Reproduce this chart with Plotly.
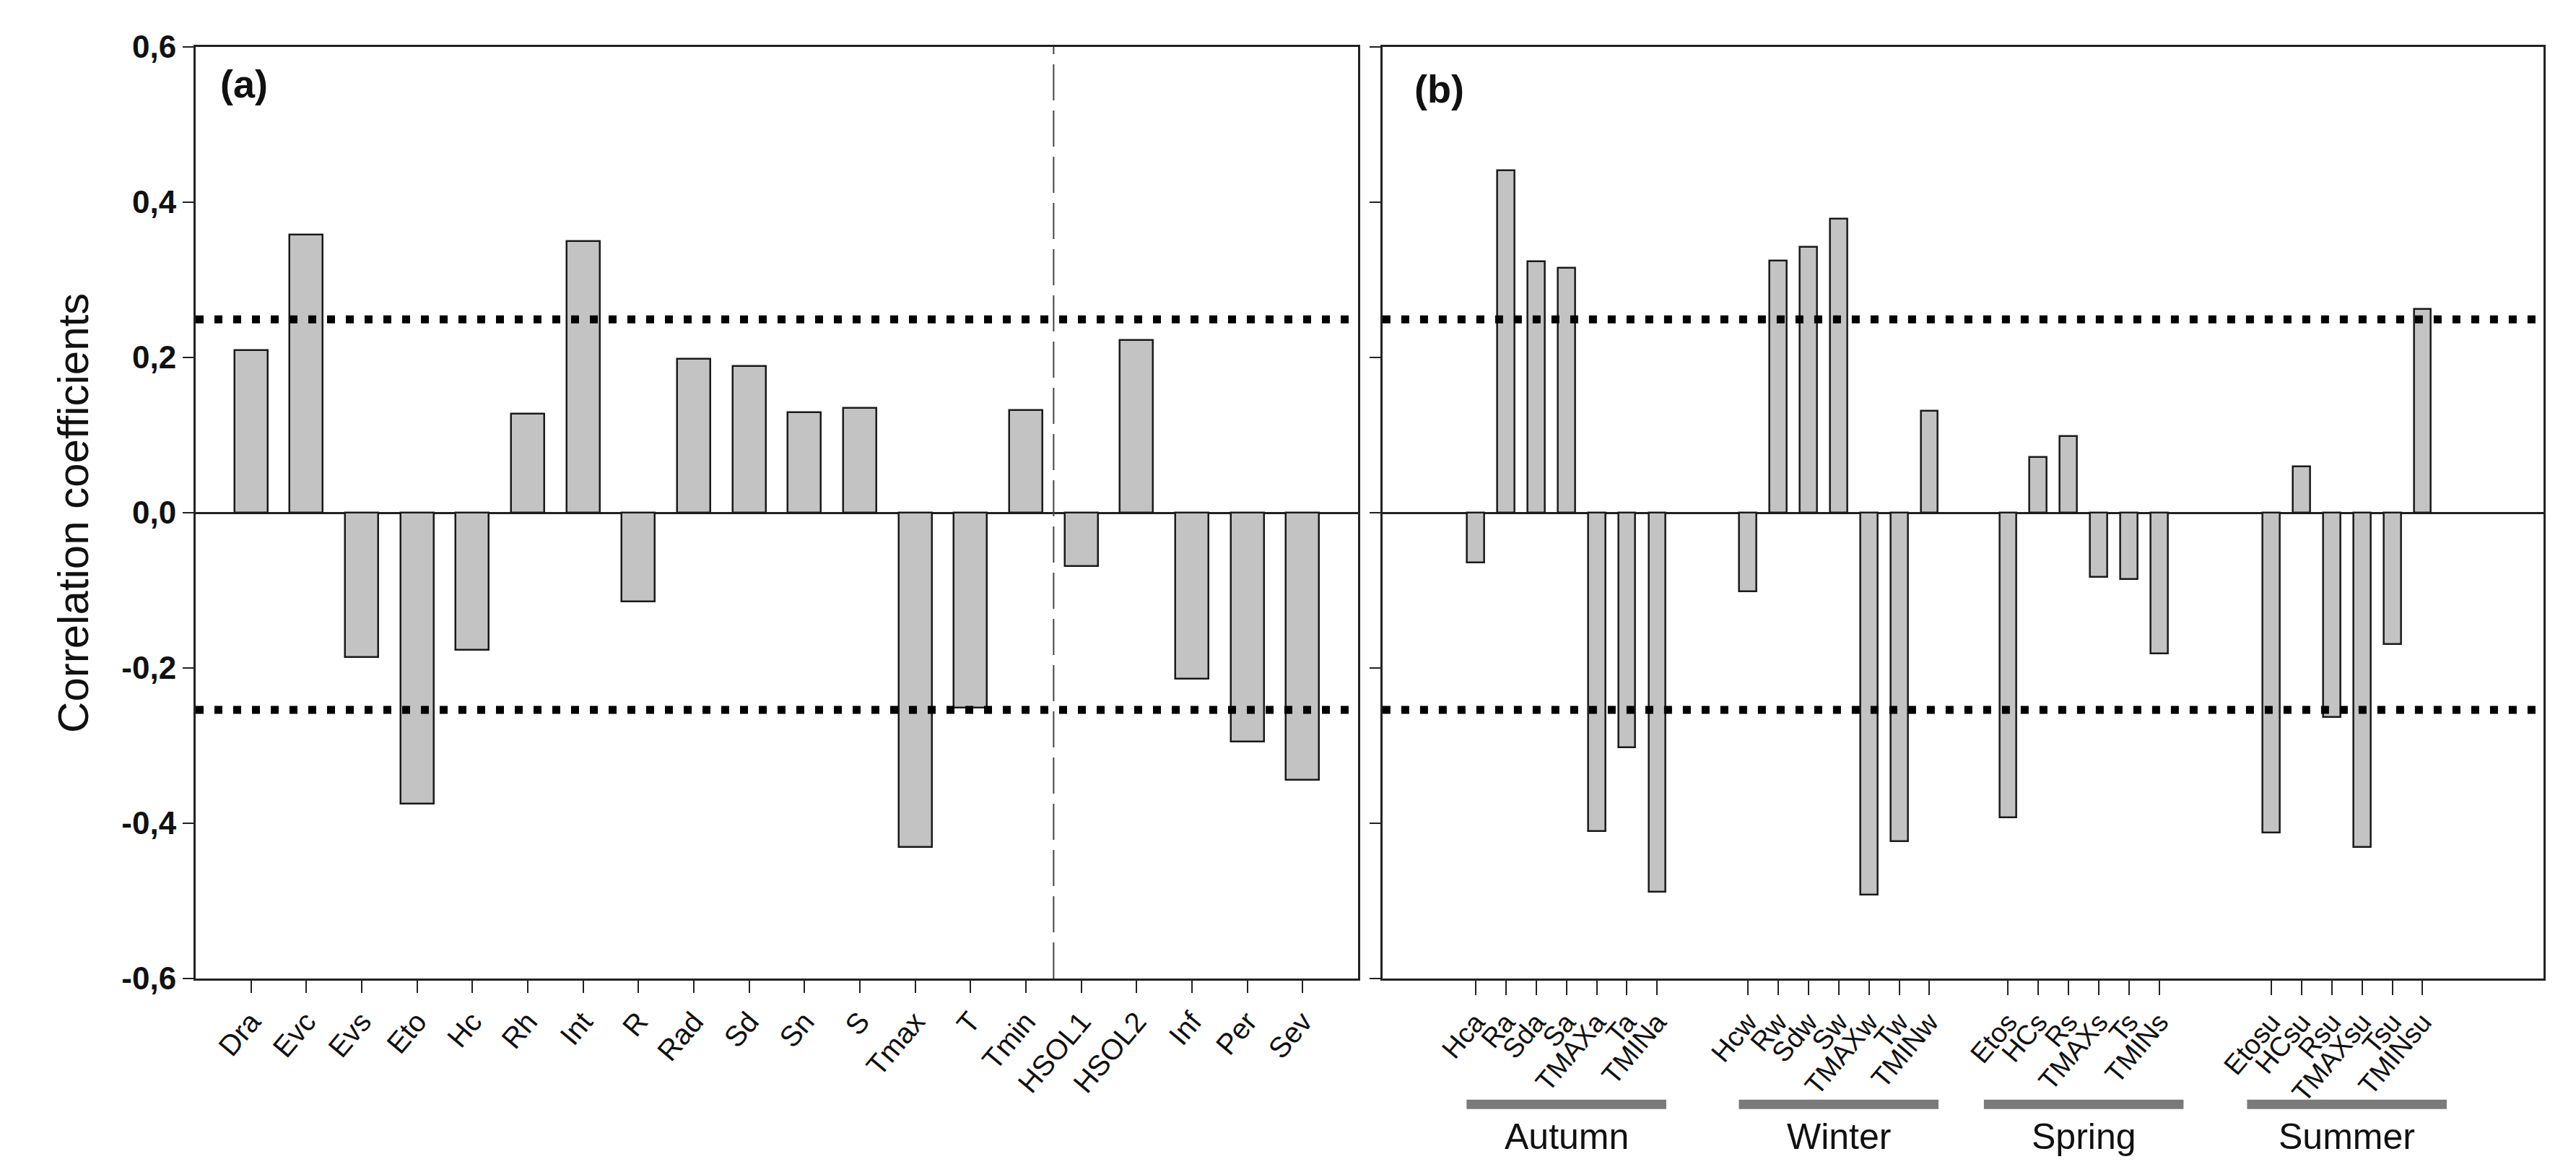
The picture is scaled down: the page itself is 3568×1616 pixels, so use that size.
import plotly.graph_objects as go

# ---------------- data ----------------
cats_a = ["Dra", "Evc", "Evs", "Eto", "Hc", "Rh", "Int", "R", "Rad", "Sd", "Sn", "S",
          "Tmax", "T", "Tmin", "HSOL1", "HSOL2", "Inf", "Per", "Sev"]
vals_a = [0.209, 0.358, -0.186, -0.375, -0.177, 0.127, 0.350, -0.114, 0.198, 0.189,
          0.129, 0.135, -0.431, -0.251, 0.132, -0.069, 0.222, -0.214, -0.295, -0.344]

seasons = ["Autumn", "Winter", "Spring", "Summer"]
autumn_labels = ["Hca", "Ra", "Sda", "Sa", "TMAXa", "Ta", "TMINa"]
autumn_vals = [-0.064, 0.441, 0.324, 0.315, -0.410, -0.302, -0.488]
winter_labels = ["Hcw", "Rw", "Sdw", "Sw", "TMAXw", "Tw", "TMINw"]
winter_vals = [-0.101, 0.325, 0.342, 0.379, -0.492, -0.423, 0.131]
spring_labels = ["Etos", "HCs", "Rs", "TMAXs", "Ts", "TMINs"]
spring_vals = [-0.393, 0.072, 0.099, -0.083, -0.086, -0.181]
summer_labels = ["Etosu", "HCsu", "Rsu", "TMAXsu", "Tsu", "TMINsu"]
summer_vals = [-0.412, 0.060, -0.263, -0.431, -0.169, 0.262]

threshold_upper = 0.249
threshold_lower = -0.254

y_ticks = [-0.6, -0.4, -0.2, 0.0, 0.2, 0.4, 0.6]
y_ticktext = ["-0,6", "-0,4", "-0,2", "0,0", "0,2", "0,4", "0,6"]

# ---------------- layout helpers ----------------
group_labels = [autumn_labels, winter_labels, spring_labels, summer_labels]
group_vals = [autumn_vals, winter_vals, spring_vals, summer_vals]
group_start = [0, 9, 17.6, 26.3]   # slot where each season group begins

pos_b, lab_b, val_b, centers = [], [], [], []
for start, labs, vals in zip(group_start, group_labels, group_vals):
    p = [start + i for i in range(len(labs))]
    pos_b += p
    lab_b += labs
    val_b += vals
    centers.append((p[0] + p[-1]) / 2)

FONT = "Arial, Liberation Sans, sans-serif"
BAR_FILL = "#c3c3c3"
EDGE = "#1a1a1a"

fig = go.Figure()
fig.add_trace(go.Bar(x=cats_a, y=vals_a, width=0.6, xaxis="x", yaxis="y",
                     marker=dict(color=BAR_FILL, line=dict(color=EDGE, width=2.5)),
                     showlegend=False))
fig.add_trace(go.Bar(x=pos_b, y=val_b, width=0.57, xaxis="x2", yaxis="y2",
                     marker=dict(color=BAR_FILL, line=dict(color=EDGE, width=2.5)),
                     showlegend=False))

axis_common = dict(showline=True, linecolor="#222", linewidth=3, mirror=True,
                   showgrid=False, ticks="outside", tickcolor="#222", tickwidth=2)

fig.update_layout(
    width=3568, height=1616,
    margin=dict(l=263, r=53, t=57, b=269),
    paper_bgcolor="white", plot_bgcolor="white",
    font=dict(family=FONT, color="#111"),
    bargap=0,
    xaxis=dict(domain=[0, 0.4951], range=[-1, 20], type="category",
               ticklen=17, tickangle=-50, tickfont=dict(size=40, family=FONT),
               zeroline=False, **axis_common),
    xaxis2=dict(domain=[0.5055, 1], range=[-3.08, 35.3], anchor="y2",
                tickvals=pos_b, ticktext=lab_b, ticklen=20, tickangle=-50,
                tickfont=dict(size=38, family=FONT), zeroline=False, **axis_common),
    yaxis=dict(range=[-0.6, 0.6], tickvals=y_ticks, ticktext=y_ticktext, ticklen=15,
               tickfont=dict(size=44, family=FONT, weight="bold"),
               zeroline=True, zerolinecolor="#222", zerolinewidth=2.5, **axis_common),
    yaxis2=dict(range=[-0.6, 0.6], tickvals=y_ticks, showticklabels=False, ticklen=15,
                anchor="x2", zeroline=True, zerolinecolor="#222", zerolinewidth=2.5,
                **axis_common),
)

# threshold dotted lines
for xd, yr in (("x domain", "y"), ("x2 domain", "y2")):
    for thr in (threshold_upper, threshold_lower):
        fig.add_shape(type="line", xref=xd, yref=yr, x0=0, x1=1, y0=thr, y1=thr,
                      line=dict(color="black", width=11, dash="11px,15px"), layer="above")

# dashed separator in panel (a)
fig.add_shape(type="line", xref="x", yref="y domain", x0=14.5, x1=14.5, y0=0, y1=1,
              line=dict(color="#444", width=2, dash="50px,14px"), layer="above")

# season bars and labels
for c, name in zip(centers, seasons):
    fig.add_shape(type="line", xref="x2", yref="paper", x0=c - 3.3, x1=c + 3.3,
                  y0=-0.135, y1=-0.135, line=dict(color="#7a7a7a", width=13))
    fig.add_annotation(xref="x2", yref="paper", x=c, y=-0.17, text=name,
                       showarrow=False, font=dict(size=50, family=FONT, color="#111"),
                       xanchor="center", yanchor="middle")

# panel labels
fig.add_annotation(xref="x domain", yref="y domain", x=0.02, y=0.985, text="<b>(a)</b>",
                   showarrow=False, xanchor="left", yanchor="top",
                   font=dict(size=54, family=FONT, color="#111"))
fig.add_annotation(xref="x2 domain", yref="y2 domain", x=0.026, y=0.98, text="<b>(b)</b>",
                   showarrow=False, xanchor="left", yanchor="top",
                   font=dict(size=54, family=FONT, color="#111"))

# y-axis title
fig.add_annotation(xref="paper", yref="paper", x=-0.0523, y=0.5, text="Correlation coefficients",
                   textangle=-90, showarrow=False, xanchor="center", yanchor="middle",
                   font=dict(size=60, family=FONT, color="#111"))

fig.write_html("out.html")
